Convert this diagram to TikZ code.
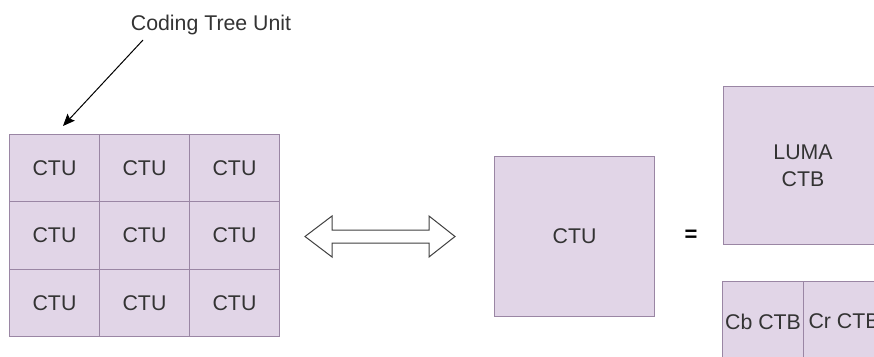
\documentclass[tikz,border=0pt]{standalone}
\usepackage{fontspec}
\setmainfont{Liberation Sans}
\usetikzlibrary{arrows.meta}
\definecolor{boxfill}{HTML}{E1D5E7}
\definecolor{boxline}{HTML}{9A86A4}
\definecolor{ink}{HTML}{333333}
\tikzset{
  txt/.style={text=ink, font=\fontsize{21.3}{26}\selectfont, inner sep=0pt, align=center},
  cell/.style={txt, draw=boxline, fill=boxfill, line width=1pt},
  pointer/.style={-{Stealth[length=12pt,width=10pt,inset=2pt]}, line width=1pt, black},
  bigarrow/.style={draw=black!75, fill=white, line width=1pt, line join=miter}
}
\begin{document}
\begin{tikzpicture}[x=1pt, y=-1pt]
\useasboundingbox (0,0) rectangle (874,356);
\clip (0,0) rectangle (874,356);

% 3x3 grid of coding tree units
\foreach \r in {0,1,2}{
  \foreach \c in {0,1,2}{
    \node[cell, minimum width=90pt, minimum height=67.33pt, anchor=north west]
      (g\r\c) at ({9+90*\c}, {134+67.33*\r}) {CTU};
  }
}

% caption with its pointer
\node[txt] (cap) at (211,25) {Coding Tree Unit};
\coordinate (captip) at (63,126);
\draw[pointer] (143,40) -- (captip);

% two-headed block arrow
\draw[bigarrow] (305,236.5) -- (332,216) -- (332,230) -- (429,230) -- (429,216)
  -- (455,236.5) -- (429,257) -- (429,243) -- (332,243) -- (332,257) -- cycle;

% single CTU
\node[cell, minimum width=160pt, minimum height=160pt, anchor=north west] (ctu) at (494,156) {CTU};

% equals sign
\node[text=black, font=\fontsize{22}{24}\selectfont\bfseries, inner sep=0pt] (eq) at (691,236) {=};

% luma and chroma blocks
\node[cell, minimum width=160pt, minimum height=158pt, anchor=north west] (luma) at (723,86) {};
\node[txt, font=\fontsize{21.3}{27}\selectfont] (lumatext) at (803,166) {LUMA\\CTB};
\node[cell, minimum width=81pt, minimum height=80pt, anchor=north west] (cb) at (722,281) {Cb CTB};
\node[cell, minimum width=81pt, minimum height=80pt, anchor=north west] (cr) at (803,281) {Cr CTB};
\end{tikzpicture}
\end{document}
